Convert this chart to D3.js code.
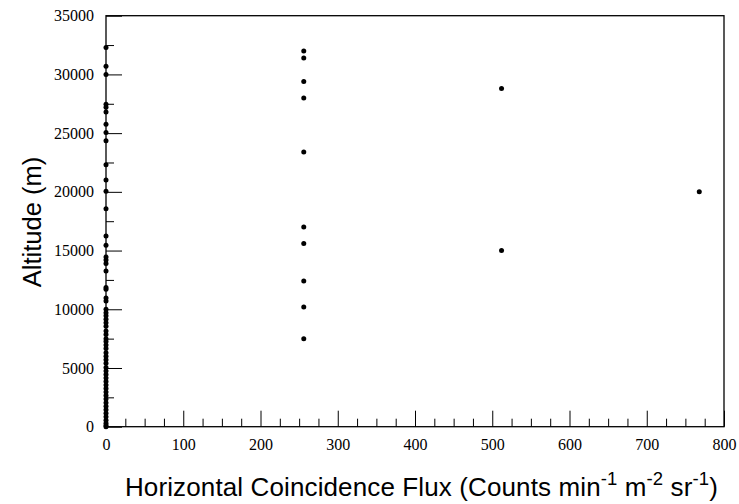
<!DOCTYPE html>
<html>
<head>
<meta charset="utf-8">
<script src="https://cdn.jsdelivr.net/npm/d3@7"></script>
<style>
  html, body { margin: 0; padding: 0; background: #fff; }
  svg { display: block; }
</style>
</head>
<body>
<svg id="chart" width="739" height="504"></svg>
<script>
// ---- data ----
const fluxZeroAltitudes = [
  32300, 30700, 30000, 27450, 27200, 26800, 25750, 25050, 24350, 22300,
  21000, 20050, 18550, 16250, 15450, 14450, 14200, 13900, 13250, 11850,
  11700, 10950, 10700, 10000, 9700, 9450, 9150, 8850, 8550, 8150,
  7850, 7500, 7250, 6950, 6650, 6300, 6000, 5700, 5400, 5050,
  4750, 4450, 4150, 3850, 3550, 3250, 2950, 2650, 2350, 2050,
  1750, 1450, 1150, 850, 550, 300, 100, 0
];
const flux256Altitudes = [32000, 31400, 29400, 28000, 23400, 17000, 15600, 12400, 10200, 7500];
const flux512Altitudes = [28800, 15000];
const flux768Altitudes = [20000];
const fluxLevels = [0, 256, 512, 768];
const xMajorTicks = [0, 100, 200, 300, 400, 500, 600, 700, 800];
const yMajorTicks = [0, 5000, 10000, 15000, 20000, 25000, 30000, 35000];
const xTitle = "Horizontal Coincidence Flux (Counts min";
const yTitle = "Altitude (m)";

const points = [];
[fluxZeroAltitudes, flux256Altitudes, flux512Altitudes, flux768Altitudes].forEach((arr, i) => {
  arr.forEach(a => points.push({ flux: fluxLevels[i], alt: a }));
});

const svg = d3.select("#chart");
svg.append("rect").attr("width", 739).attr("height", 504).attr("fill", "#fff");

const x = d3.scaleLinear().domain([0, 800]).range([106, 724]);
const y = d3.scaleLinear().domain([0, 35000]).range([426.7, 15.7]);

const tickFont = "'Liberation Serif', 'Times New Roman', serif";
const titleFont = "'Liberation Sans', Arial, sans-serif";

// minor ticks
const xMinor = d3.range(0, 801, 25).filter(v => v % 100 !== 0);
const yMinor = d3.range(0, 35001, 2500).filter(v => v % 5000 !== 0);

svg.append("g").attr("transform", `translate(0,${y(0)})`)
  .call(d3.axisBottom(x).tickValues(xMinor).tickSize(-8).tickFormat(""))
  .call(g => g.select(".domain").remove())
  .call(g => g.selectAll("line").attr("stroke", "#000").attr("stroke-width", 1));

svg.append("g").attr("transform", `translate(${x(0)},0)`)
  .call(d3.axisLeft(y).tickValues(yMinor).tickSize(-8).tickFormat(""))
  .call(g => g.select(".domain").remove())
  .call(g => g.selectAll("line").attr("stroke", "#000").attr("stroke-width", 1));

// major ticks
svg.append("g").attr("transform", `translate(0,${y(0)})`)
  .call(d3.axisBottom(x).tickValues(xMajorTicks).tickSize(-16).tickPadding(12).tickFormat(d3.format("d")))
  .call(g => g.select(".domain").remove())
  .call(g => g.selectAll("line").attr("stroke", "#000").attr("stroke-width", 1))
  .call(g => g.selectAll("text").attr("font-family", tickFont).attr("font-size", 16).attr("fill", "#000"));

svg.append("g").attr("transform", `translate(${x(0)},0)`)
  .call(d3.axisLeft(y).tickValues(yMajorTicks).tickSize(-16).tickPadding(12).tickFormat(d3.format("d")))
  .call(g => g.select(".domain").remove())
  .call(g => g.selectAll("line").attr("stroke", "#000").attr("stroke-width", 1))
  .call(g => g.selectAll("text").attr("font-family", tickFont).attr("font-size", 16).attr("fill", "#000"));

// frame
svg.append("rect")
  .attr("x", x(0)).attr("y", y(35000))
  .attr("width", x(800) - x(0)).attr("height", y(0) - y(35000))
  .attr("fill", "none").attr("stroke", "#000").attr("stroke-width", 1.3);

// points
svg.append("g").selectAll("circle").data(points).join("circle")
  .attr("cx", d => x(d.flux)).attr("cy", d => y(d.alt))
  .attr("r", 2.5).attr("fill", "#000");

// x title with superscripts
const xt = svg.append("text")
  .attr("x", 718).attr("y", 496)
  .attr("text-anchor", "end")
  .attr("font-family", titleFont).attr("font-size", 26).attr("fill", "#000")
  .attr("letter-spacing", 0.12);
xt.append("tspan").text(xTitle);
xt.append("tspan").attr("dy", -11).attr("font-size", 18.5).text("-1");
xt.append("tspan").attr("dy", 11).text(" m");
xt.append("tspan").attr("dy", -11).attr("font-size", 18.5).text("-2");
xt.append("tspan").attr("dy", 11).text(" sr");
xt.append("tspan").attr("dy", -11).attr("font-size", 18.5).text("-1");
xt.append("tspan").attr("dy", 11).text(")");

// y title
svg.append("text")
  .attr("transform", `translate(41,${222}) rotate(-90)`)
  .attr("text-anchor", "middle")
  .attr("font-family", titleFont).attr("font-size", 25.5).attr("fill", "#000")
  .text(yTitle);
</script>
</body>
</html>
